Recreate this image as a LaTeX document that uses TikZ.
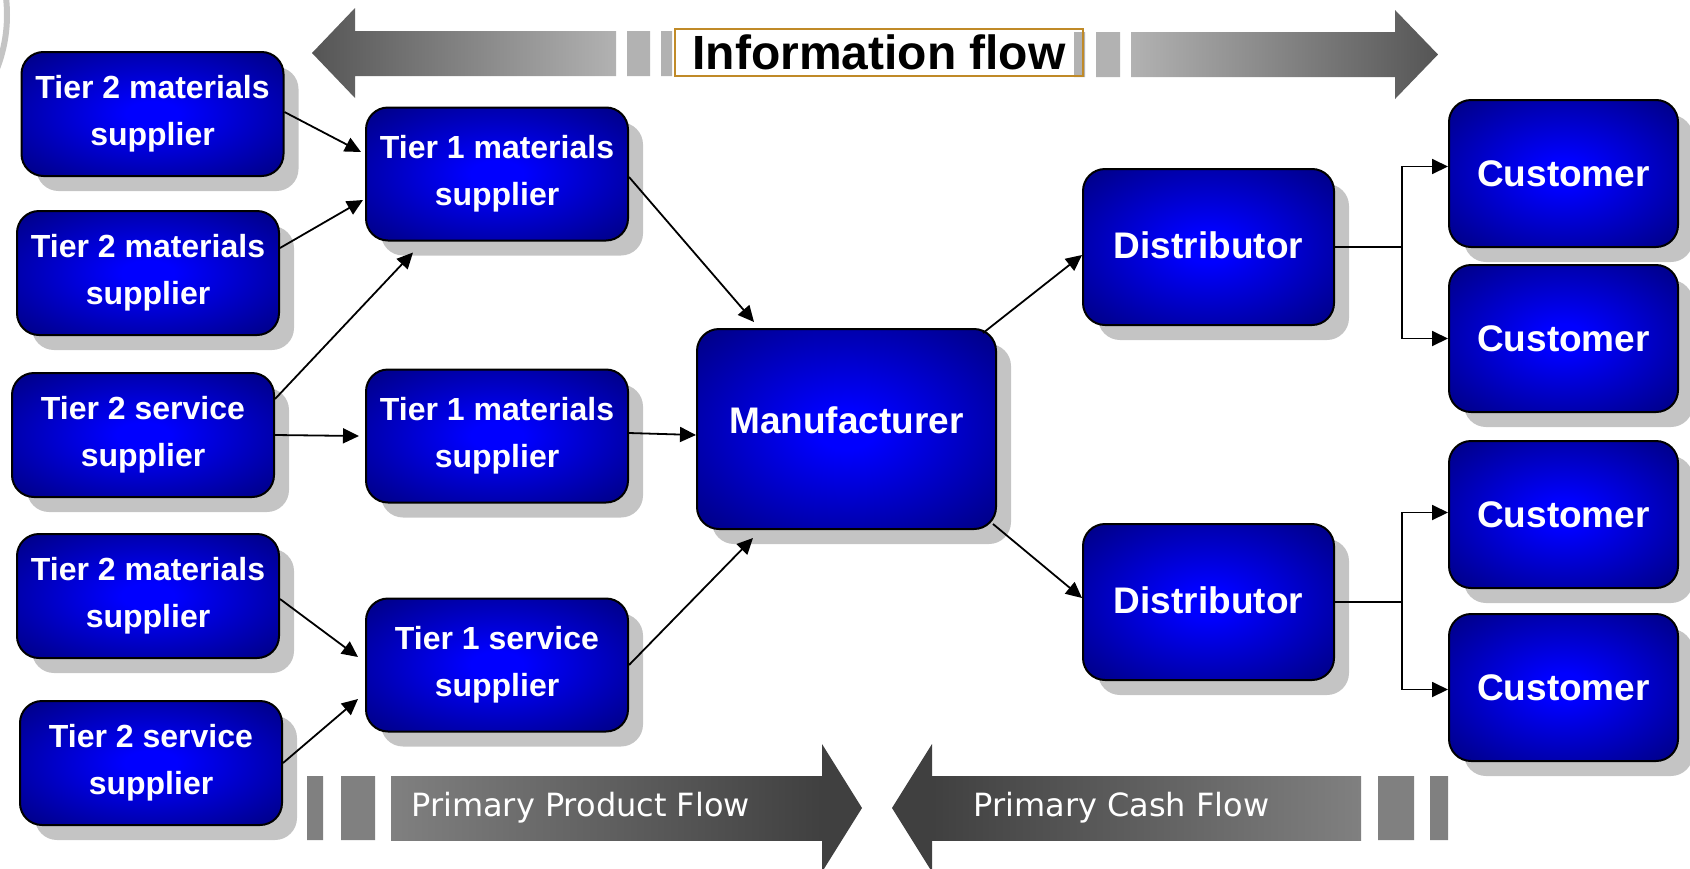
\documentclass[tikz,border=0pt]{standalone}
\usepackage{fontspec}
\setmainfont{Liberation Sans}
\newfontfamily\flowfont{DejaVu Sans}
\usetikzlibrary{positioning,calc,shadows,arrows.meta}

\definecolor{bleuvif}{RGB}{0,0,255}
\definecolor{bleunuit}{RGB}{0,0,128}
\definecolor{ombre}{RGB}{196,196,196}
\definecolor{grisclair}{RGB}{178,178,178}
\definecolor{grisfonce}{RGB}{85,85,85}
\definecolor{grisbas}{RGB}{128,128,128}
\definecolor{grisnoir}{RGB}{64,64,64}
\definecolor{cadre}{RGB}{192,138,40}

\pgfdeclareradialshading{halo}{\pgfpoint{0bp}{0bp}}{color(0bp)=(bleuvif); color(5bp)=(bleuvif); color(36bp)=(bleunuit); color(50bp)=(bleunuit)}

\tikzset{
  boite/.style={draw=black, line width=1pt, rounded corners=11pt, shading=halo,
    text=white, align=center, inner sep=0pt,
    drop shadow={shadow xshift=7.5pt, shadow yshift=-7.5pt, fill=ombre, opacity=1}},
  rang/.style={boite, font=\bfseries\fontsize{16}{23.5}\selectfont,
    minimum width=131pt, minimum height=62pt},
  gros/.style={boite, font=\bfseries\fontsize{18.5}{22}\selectfont},
  fleche/.style={-{Triangle[length=8pt,width=7.5pt]}, line width=0.9pt},
  legende/.style={anchor=west, inner sep=0pt, text=white, font=\flowfont\fontsize{16}{16}\selectfont}
}

\begin{document}
\begin{tikzpicture}[x=0.5pt, y=-0.5pt]
              \useasboundingbox (0,0) rectangle (1690,868);
              \draw[line width=3pt, ombre] (-141,15) circle[radius=148];

              % Bandeau du flux d'information
              \shade[left color=grisfonce, right color=grisclair] (312,53) -- (355,8) -- (355,31) -- (616,31) -- (616,76) -- (355,76) -- (355,98) -- cycle;
              \fill[grisclair] (627,31) rectangle (650,76) (661,31) rectangle (672,76);
              \fill[grisclair] (1074,32) rectangle (1085,77) (1096,32) rectangle (1120,77);
              \node[draw=cadre, line width=1pt, minimum width=204pt, minimum height=23.5pt, inner sep=0pt,
                font=\bfseries\fontsize{24}{24}\selectfont] (info) at (879,52.5) {Information flow};
              \shade[left color=grisclair, right color=grisfonce] (1131,32) -- (1395,32) -- (1395,10) -- (1438,54.5) -- (1395,99) -- (1395,77) -- (1131,77) -- cycle;

              % Les fournisseurs de rang 2
                \node[rang] (t2a) at (152.5,114) {Tier 2 materials\\supplier};
                \node[rang] (t2b) at (148,273) {Tier 2 materials\\supplier};
                \node[rang] (t2c) at (143,435) {Tier 2 service\\supplier};
                \node[rang] (t2d) at (148,596) {Tier 2 materials\\supplier};
                \node[rang] (t2e) at (151,763) {Tier 2 service\\supplier};

              % Les fournisseurs de rang 1
                \node[rang, minimum height=66.5pt] (t1a) at (497,174) {Tier 1 materials\\supplier};
                \node[rang, minimum height=66.5pt] (t1b) at (497,436) {Tier 1 materials\\supplier};
                \node[rang, minimum height=66.5pt] (t1c) at (497,665) {Tier 1 service\\supplier};

              % Fabricant, distributeurs et clients
                \node[gros, minimum width=149.5pt, minimum height=100pt, text depth=9pt] (man) at (846.5,429) {Manufacturer};
                \node[gros, minimum width=125.5pt, minimum height=78pt, text depth=2pt] (dist1) at (1208.5,247) {Distributor};
                \node[gros, minimum width=125.5pt, minimum height=78pt, text depth=2pt] (dist2) at (1208.5,602) {Distributor};
                \node[gros, minimum width=114.5pt, minimum height=73.5pt] (cust1) at (1563.5,173.5) {Customer};
                \node[gros, minimum width=114.5pt, minimum height=73.5pt, below=8pt of cust1] (cust2) {Customer};
                \node[gros, minimum width=114.5pt, minimum height=73.5pt] (cust3) at (1563.5,514.5) {Customer};
                \node[gros, minimum width=114.5pt, minimum height=73.5pt, below=12pt of cust3] (cust4) {Customer};

              % Flèches vers le rang 1
              \draw[fleche] ($(t2a.east)+(0,-2)$) -- ($(t1a.west)+(-4,-22)$);
              \draw[fleche] ($(t2b.east)+(0,-25)$) -- ($(t1a.west)+(-2,26)$);
              \draw[fleche] ($(t2c.east)+(0,-36)$) -- ($(t1a.south)+(-84,11)$);
              \draw[fleche] (t2c.east) -- ($(t1b.west)+(-6,0)$);
              \draw[fleche] ($(t2d.east)+(0,3)$) -- ($(t1c.west)+(-7,-8)$);
              \draw[fleche] (t2e.east) -- ($(t1c.west)+(-7,34)$);

              % Flèches vers le fabricant puis les distributeurs
              \draw[fleche] ($(t1a.east)+(0,3)$) -- ($(man.north)+(-92.5,-6)$);
              \draw[fleche] ($(t1b.east)+(0,-3)$) -- ($(man.west)+(0,6)$);
              \draw[fleche] (t1c.east) -- ($(man.south)+(-93.5,8)$);
              \draw[fleche] ($(man.north east)+(-14,5)$) -- ($(dist1.west)+(0,8)$);
              \draw[fleche] ($(man.south east)+(-4,-6)$) -- ($(dist2.west)+(0,-4)$);

              % Fourches vers les clients
              \coordinate (j1) at ($(dist1.east)+(67,0)$);
              \coordinate (j2) at ($(dist2.east)+(67,0)$);
              \draw[line width=0.9pt] (dist1.east) -- (j1);
              \draw[fleche] (j1) |- ($(cust1.west)+(0,-7)$);
              \draw[fleche] (j1) |- (cust2.west);
              \draw[line width=0.9pt] (dist2.east) -- (j2);
              \draw[fleche] (j2) |- ($(cust3.west)+(0,-2)$);
              \draw[fleche] (j2) |- ($(cust4.west)+(0,2)$);

              % Flux de produits et flux financiers
              \fill[grisbas] (307,776) rectangle (323,840) (341,776) rectangle (375,840);
              \shade[left color=grisbas, right color=grisnoir] (391,776) rectangle (822,840);
              \fill[grisnoir] (822,744) -- (862,808) -- (822,872) -- cycle;
              \node[legende] (produit) at (411,808) {Primary Product Flow};
              \fill[grisnoir] (892,808) -- (932,744) -- (932,872) -- cycle;
              \shade[left color=grisnoir, right color=grisbas] (932,776) rectangle (1361,840);
              \fill[grisbas] (1378,776) rectangle (1414,840) (1430,776) rectangle (1448,840);
              \node[legende] (caisse) at (973,808) {Primary Cash Flow};
            \end{tikzpicture}
\end{document}
